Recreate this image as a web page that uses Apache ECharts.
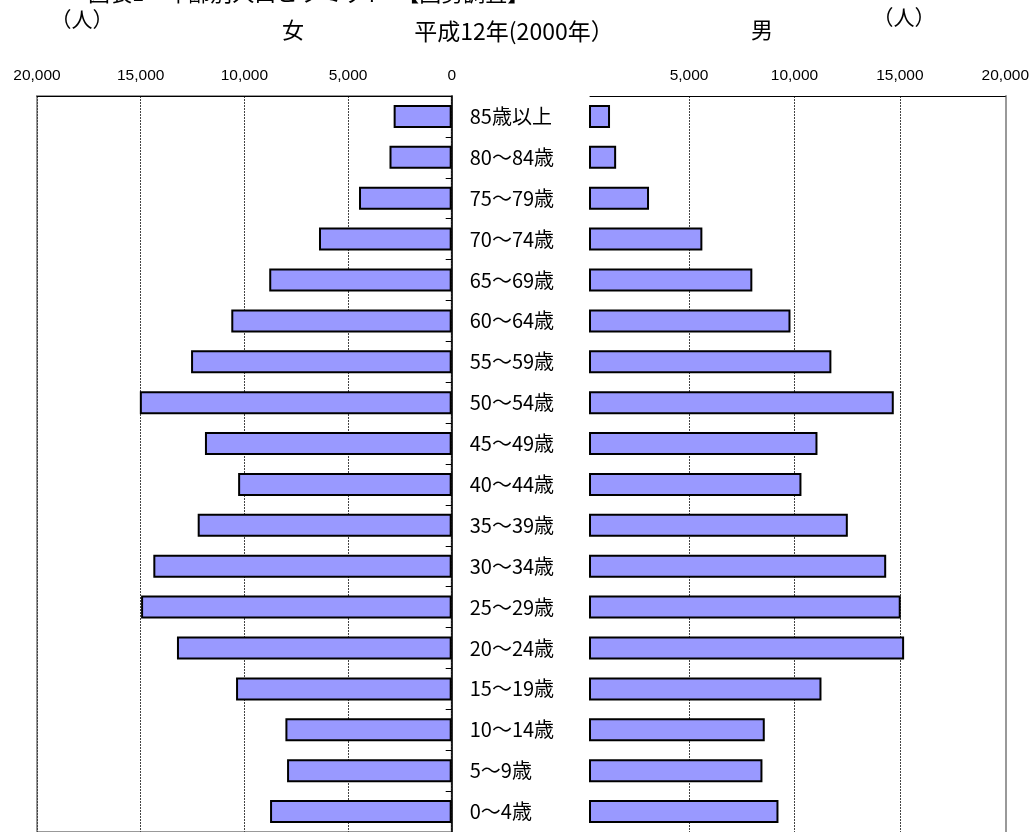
<!DOCTYPE html>
<html>
<head>
<meta charset="utf-8">
<script src="https://cdn.jsdelivr.net/npm/echarts@6/dist/echarts.min.js"></script>
<style>
html,body{margin:0;padding:0;background:#fff;}
#chart{width:1034px;height:832px;}
</style>
</head>
<body>
<div id="chart"></div>
<script>
const categories = ['85歳以上','80～84歳','75～79歳','70～74歳','65～69歳','60～64歳','55～59歳','50～54歳','45～49歳','40～44歳','35～39歳','30～34歳','25～29歳','20～24歳','15～19歳','10～14歳','5～9歳','0～4歳'];
const female = [2800,3000,4470,6400,8800,10630,12570,15040,11900,10300,12250,14390,14980,13250,10400,8020,7940,8760];
const male = [1250,1540,3100,5630,8000,9810,11750,14710,11090,10330,12530,14350,15040,15200,11280,8590,8480,9240];
const femaleTicks = [0,5000,10000,15000,20000];
const maleTicks = [5000,10000,15000,20000];

const FONT = 'Noto Sans CJK JP';
const NUMFONT = 'Liberation Sans';
const fmt = v => Number(v).toLocaleString('en-US');

const chart = echarts.init(document.getElementById('chart'), null, {renderer: 'canvas'});
const gridTop = 96, gridH = 738;

function txt(text, x, y, size, align) {
  return {type: 'text', x: x, y: y, style: {text: text, fontSize: size, fontFamily: FONT, fill: '#000', align: align || 'center', verticalAlign: 'middle'}};
}

chart.setOption({
  backgroundColor: '#fff',
  animation: false,
  graphic: [
    txt('図表1　年齢別人口ピラミッド　【国勢調査】', 88, -7, 22, 'left'),
    txt('（人）', 82, 19, 21),
    txt('（人）', 904, 17, 21),
    txt('女', 293, 30, 22),
    txt('平成12年(2000年）', 514, 31, 23),
    txt('男', 762, 30, 22)
  ],
  grid: [
    {left: 37, top: gridTop, width: 414.7, height: gridH, show: true, borderColor: '#999', borderWidth: 2, backgroundColor: 'transparent'},
    {left: 590, top: gridTop, width: 415.3, height: gridH, show: false}
  ],
  xAxis: [
    {
      type: 'value', gridIndex: 0, inverse: true, position: 'top',
      min: 0, max: 20000, interval: 5000,
      axisLine: {show: true, onZero: false, lineStyle: {color: '#000', width: 1}},
      axisTick: {show: false},
      axisLabel: {show: true, margin: 12, color: '#000', fontSize: 15.5, fontFamily: NUMFONT, formatter: fmt,
        customValues: femaleTicks},
      splitLine: {show: true, lineStyle: {color: '#444', width: 1, type: [2, 1]}}
    },
    {
      type: 'value', gridIndex: 1, position: 'top',
      min: 300, max: 20000,
      axisLine: {show: true, onZero: false, lineStyle: {color: '#000', width: 1}},
      axisTick: {show: false, customValues: maleTicks},
      axisLabel: {show: true, margin: 12, color: '#000', fontSize: 15.5, fontFamily: NUMFONT, formatter: fmt,
        customValues: maleTicks},
      splitLine: {show: true, lineStyle: {color: '#444', width: 1, type: [2, 1]}}
    }
  ],
  yAxis: [
    {
      type: 'category', gridIndex: 0, position: 'right', inverse: true, data: categories,
      axisLine: {show: true, onZero: false, lineStyle: {color: '#000', width: 1.5}},
      axisTick: {show: true, inside: true, length: 6, lineStyle: {color: '#000'}},
      axisLabel: {show: true, margin: 18, align: 'left', color: '#000', fontSize: 20, fontFamily: FONT},
      splitLine: {show: false}
    },
    {
      type: 'category', gridIndex: 1, position: 'right', inverse: true, data: categories,
      axisLine: {show: true, onZero: false, lineStyle: {color: '#999', width: 2}},
      axisTick: {show: false},
      axisLabel: {show: false},
      splitLine: {show: false}
    }
  ],
  series: [
    {
      name: '女', type: 'bar', xAxisIndex: 0, yAxisIndex: 0, data: female,
      barWidth: 23, clip: true,
      itemStyle: {color: '#9999FF', borderColor: '#000', borderWidth: 2}
    },
    {
      name: '男', type: 'bar', xAxisIndex: 1, yAxisIndex: 1, data: male,
      barWidth: 23, clip: true,
      itemStyle: {color: '#9999FF', borderColor: '#000', borderWidth: 2}
    }
  ]
});
</script>
</body>
</html>
